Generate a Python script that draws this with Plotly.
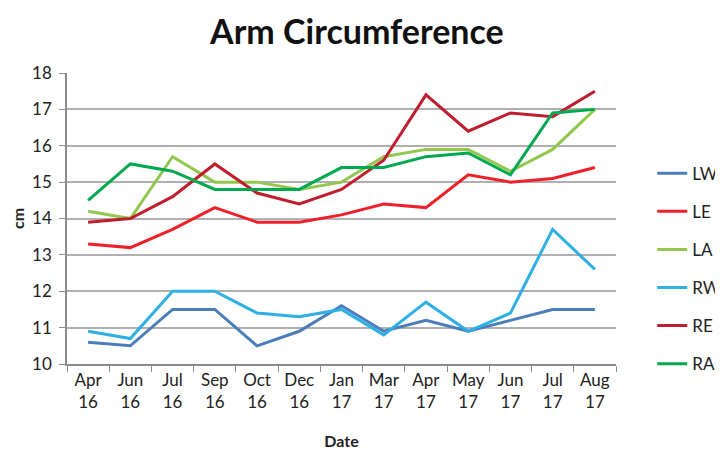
import plotly.graph_objects as go

dates = ["Apr<br>16", "Jun<br>16", "Jul<br>16", "Sep<br>16", "Oct<br>16", "Dec<br>16",
         "Jan<br>17", "Mar<br>17", "Apr<br>17", "May<br>17", "Jun<br>17", "Jul<br>17", "Aug<br>17"]
date_keys = ["Apr 16", "Jun 16", "Jul 16", "Sep 16", "Oct 16", "Dec 16",
             "Jan 17", "Mar 17", "Apr 17", "May 17", "Jun 17", "Jul 17", "Aug 17"]

LW = [10.6, 10.5, 11.5, 11.5, 10.5, 10.9, 11.6, 10.9, 11.2, 10.9, 11.2, 11.5, 11.5]
LE = [13.3, 13.2, 13.7, 14.3, 13.9, 13.9, 14.1, 14.4, 14.3, 15.2, 15.0, 15.1, 15.4]
LA = [14.2, 14.0, 15.7, 15.0, 15.0, 14.8, 15.0, 15.7, 15.9, 15.9, 15.3, 15.9, 17.0]
RW = [10.9, 10.7, 12.0, 12.0, 11.4, 11.3, 11.5, 10.8, 11.7, 10.9, 11.4, 13.7, 12.6]
RE = [13.9, 14.0, 14.6, 15.5, 14.7, 14.4, 14.8, 15.6, 17.4, 16.4, 16.9, 16.8, 17.5]
RA = [14.5, 15.5, 15.3, 14.8, 14.8, 14.8, 15.4, 15.4, 15.7, 15.8, 15.2, 16.9, 17.0]

series = [("LW", LW, "#4a7ebb"), ("LE", LE, "#f0202a"), ("LA", LA, "#92c84f"),
          ("RW", RW, "#2eb0e4"), ("RE", RE, "#be1e2d"), ("RA", RA, "#00a94f")]

font = "Lato, 'Open Sans', sans-serif"
fig = go.Figure()
for name, vals, col in series:
    fig.add_trace(go.Scatter(x=date_keys, y=vals, name=name, mode="lines",
                             line=dict(color=col, width=3), legendgroup=name))

fig.update_layout(
    width=715, height=443,
    margin=dict(l=59, r=107, t=65, b=87, autoexpand=False),
    paper_bgcolor="white", plot_bgcolor="white",
    font=dict(family=font, color="#222222", size=17),
    title=dict(text="<b>Arm Circumference</b>", x=0.488, xanchor="center", y=0.946, yanchor="middle",
               font=dict(size=34, family=font, color="#111111")),
    showlegend=True,
    legend=dict(x=1.066, xanchor="left", y=0.716, yanchor="top", traceorder="grouped",
                tracegroupgap=13, font=dict(size=17, family=font), bgcolor="rgba(0,0,0,0)"),
    xaxis=dict(type="category", tickvals=date_keys, ticktext=dates, tickson="boundaries",
               range=[-0.5, 12.5], automargin=False,
               ticks="outside", ticklen=6, tickcolor="#8c8c8c", showline=True, linecolor="#8c8c8c",
               linewidth=1.5, showgrid=False, tickfont=dict(size=17),
               title=dict(text="<b>Date</b>", font=dict(size=16), standoff=25)),
    yaxis=dict(range=[10, 18], dtick=1, ticks="outside", ticklen=6, tickcolor="#8c8c8c",
               automargin=False, ticklabelstandoff=4,
               showline=True, linecolor="#8c8c8c", linewidth=1.5, showgrid=True,
               gridcolor="#b0b0b0", gridwidth=1.5, zeroline=False, tickfont=dict(size=17),
               title=dict(text="<b>cm</b>", font=dict(size=16), standoff=29)),
)

fig.write_html("out.html")
